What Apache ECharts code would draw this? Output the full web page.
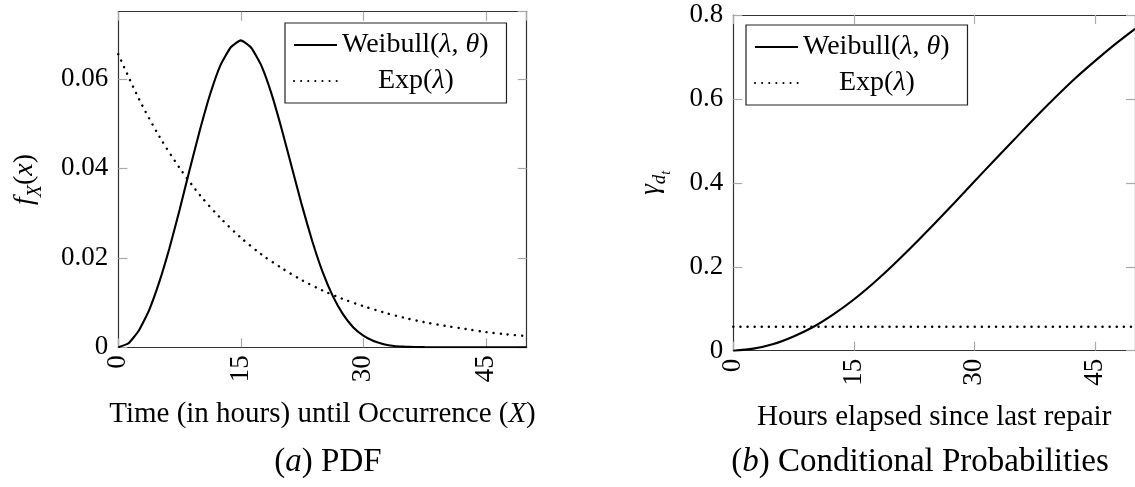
<!DOCTYPE html>
<html lang="en">
<head>
    <meta charset="utf-8">
    <title>Weibull vs Exp</title>
    <script src="https://cdn.jsdelivr.net/npm/echarts@6/dist/echarts.min.js"></script>
    <style>
        html, body { margin: 0; padding: 0; background: #fff; }
        #main { width: 1135px; height: 487px; }
    </style>
</head>
<body>
<div id="main"></div>
<script type="text/javascript">
    // (a) PDF - weibull sampled finer, exp on the coarse grid
    var pdfHours = [0, 1.25, 2.5, 3.75, 5, 6.25, 7.5, 8.75, 10, 11.25, 12.5, 13.75, 15, 16.25, 17.5, 18.75, 20, 21.25, 22.5, 23.75, 25, 26.25, 27.5, 28.75, 30, 31.25, 32.5, 33.75, 35, 36.25, 37.5, 40, 45, 50];
    var weibullPdf = [0, 0.0009, 0.0037, 0.0082, 0.0145, 0.0221, 0.0307, 0.0398, 0.0486, 0.0566, 0.0630, 0.0670, 0.0686, 0.0670, 0.0630, 0.0567, 0.0488, 0.0402, 0.0316, 0.0237, 0.0169, 0.0115, 0.0074, 0.0045, 0.0026, 0.0014, 0.0007, 0.0003, 0.00015, 0.00006, 0.00003, 0, 0, 0];
    var hours = [0, 2.5, 5, 7.5, 10, 12.5, 15, 17.5, 20, 22.5, 25, 27.5, 30, 32.5, 35, 37.5, 40, 42.5, 45, 47.5, 50];
    var expPdf = [0.0655, 0.0556, 0.0472, 0.0401, 0.0340, 0.0289, 0.0245, 0.0208, 0.0177, 0.0150, 0.0127, 0.0108, 0.0092, 0.0078, 0.0066, 0.0056, 0.0048, 0.0041, 0.0034, 0.0029, 0.0025];
    // (b) conditional probabilities
    var weibullCond = [0, 0.005, 0.016, 0.034, 0.057, 0.087, 0.122, 0.162, 0.206, 0.253, 0.302, 0.352, 0.403, 0.454, 0.504, 0.554, 0.602, 0.648, 0.690, 0.730, 0.767];
    var expCondHours = [0, 50];
    var expCond = [0.057, 0.057];
    var pdfTicks = [0, 0.02, 0.04, 0.06];
    var condTicks = [0, 0.2, 0.4, 0.6, 0.8];

    var FONT = "'Liberation Serif', 'DejaVu Serif', serif";
    var frameColor = '#333';
    var tickColor = '#aaa';

    function pairs(xs, ys) {
        var out = [];
        for (var i = 0; i < xs.length; i++) out.push([xs[i], ys[i]]);
        return out;
    }

    function xAx(grid, pos, show, name, nameGap) {
        return {
            type: 'value', gridIndex: grid, position: pos, min: 0, max: 50, interval: 15,
            name: show ? name : '', nameLocation: 'middle', nameGap: nameGap || 0,
            nameTextStyle: { fontFamily: FONT, fontSize: 29, color: '#000',
                rich: { i: { fontFamily: FONT, fontSize: 29, fontStyle: 'italic', color: '#000' } } },
            axisLine: { show: true, onZero: false, lineStyle: { color: frameColor, width: 1.2 } },
            axisTick: { show: true, inside: true, length: 9, lineStyle: { color: tickColor, width: 1.2 } },
            axisLabel: { show: show, rotate: 90, margin: 8, showMaxLabel: false, fontFamily: FONT, fontSize: 27, color: '#000' },
            splitLine: { show: false }
        };
    }

    function yAx(grid, pos, show, max, ticks, digits, name, nameGap, rich) {
        return {
            type: 'value', gridIndex: grid, position: pos, min: 0, max: max, interval: ticks[1],
            name: show ? name : '', nameLocation: 'middle', nameGap: nameGap || 0,
            nameTextStyle: { fontFamily: FONT, color: '#000', rich: rich },
            axisLine: { show: true, onZero: false, lineStyle: { color: frameColor, width: 1.2 } },
            axisTick: { show: true, inside: true, length: 9, lineStyle: { color: tickColor, width: 1.2 } },
            axisLabel: {
                show: show, margin: 10, showMaxLabel: max === ticks[ticks.length - 1],
                fontFamily: FONT, fontSize: 27, color: '#000',
                formatter: function (v) { return v === 0 ? '0' : v.toFixed(digits); }
            },
            splitLine: { show: false }
        };
    }

    var legendRich = {
        i: { fontFamily: FONT, fontSize: 28, fontStyle: 'italic', color: '#000' },
        p: { width: 36 }
    };
    function legendFmt(name) {
        return name === 'Weibull' ? 'Weibull({i|λ}, {i|θ})' : '{p| }Exp({i|λ})';
    }
    function legendAt(left, top) {
        return {
            data: ['Weibull', 'Exp'], orient: 'vertical', left: left, top: top,
            padding: [8, 18, 8, 8], itemWidth: 43, itemHeight: 14, itemGap: 8,
            borderColor: '#222', borderWidth: 1.2, borderRadius: 0,
            selectedMode: false, formatter: legendFmt,
            itemStyle: { opacity: 0 },
            textStyle: { fontFamily: FONT, fontSize: 28, color: '#000', rich: legendRich }
        };
    }

    var solid = { color: '#000', width: 2.1 };
    var dotted = { color: '#000', width: 2.4, type: [0.1, 7], cap: 'round' };
    var capStyle = { fontFamily: FONT, fontSize: 33, fontWeight: 'normal', color: '#000',
        rich: { i: { fontFamily: FONT, fontSize: 33, fontStyle: 'italic', color: '#000' } } };

    var chart = echarts.init(document.getElementById('main'), null, { renderer: 'canvas' });
    var option = {
        backgroundColor: '#fff',
        animation: false,
        title: [
            { text: '({i|a}) PDF', left: 323, top: 441, textAlign: 'center', textStyle: capStyle },
            { text: '({i|b}) Conditional Probabilities', left: 915, top: 441, textAlign: 'center', textStyle: capStyle }
        ],
        legend: [legendAt(285, 23), legendAt(746, 25)],
        grid: [
            { left: 118.3, top: 11.7, width: 408.4, height: 335.6 },
            { left: 733.3, top: 15, width: 408, height: 335.7 }
        ],
        xAxis: [
            xAx(0, 'bottom', true, 'Time (in hours) until Occurrence ({i|X})', 53),
            xAx(0, 'top', false),
            xAx(1, 'bottom', true, 'Hours elapsed since last repair', 52),
            xAx(1, 'top', false)
        ],
        yAxis: [
            yAx(0, 'left', true, 0.075, pdfTicks, 2, '{i|f}{s|X}{n|(}{i|x}{n|)}', 73, {
                i: { fontFamily: FONT, fontSize: 28, fontStyle: 'italic', color: '#000', verticalAlign: 'bottom', padding: [0, 0, 7, 0] },
                n: { fontFamily: FONT, fontSize: 28, color: '#000', verticalAlign: 'bottom', padding: [0, 0, 7, 0] },
                s: { fontFamily: FONT, fontSize: 20, fontStyle: 'italic', color: '#000', verticalAlign: 'bottom' }
            }),
            yAx(0, 'right', false, 0.075, pdfTicks, 2),
            yAx(1, 'left', true, 0.8, condTicks, 1, '{g|γ}{s|d}{t|t}', 60, {
                g: { fontFamily: FONT, fontSize: 27, fontStyle: 'italic', color: '#000', verticalAlign: 'bottom', padding: [0, 0, 9, 0] },
                s: { fontFamily: FONT, fontSize: 19, fontStyle: 'italic', color: '#000', verticalAlign: 'bottom', padding: [0, 0, 4, 0] },
                t: { fontFamily: FONT, fontSize: 14, fontStyle: 'italic', color: '#000', verticalAlign: 'bottom' }
            }),
            yAx(1, 'right', false, 0.8, condTicks, 1)
        ],
        series: [
            { name: 'Weibull', type: 'line', xAxisIndex: 0, yAxisIndex: 0, data: pairs(pdfHours, weibullPdf),
              symbol: 'none', color: '#000', smooth: 0.15, lineStyle: solid, z: 3 },
            { name: 'Exp', type: 'line', xAxisIndex: 0, yAxisIndex: 0, data: pairs(hours, expPdf),
              symbol: 'none', color: '#000', smooth: 0.3, lineStyle: dotted, z: 2 },
            { name: 'Weibull', type: 'line', xAxisIndex: 2, yAxisIndex: 2, data: pairs(hours, weibullCond),
              symbol: 'none', color: '#000', smooth: 0.3, lineStyle: solid, z: 3 },
            { name: 'Exp', type: 'line', xAxisIndex: 2, yAxisIndex: 2, data: pairs(expCondHours, expCond),
              symbol: 'none', color: '#000', lineStyle: dotted, z: 2 }
        ]
    };
    chart.setOption(option);
</script>
</body>
</html>
